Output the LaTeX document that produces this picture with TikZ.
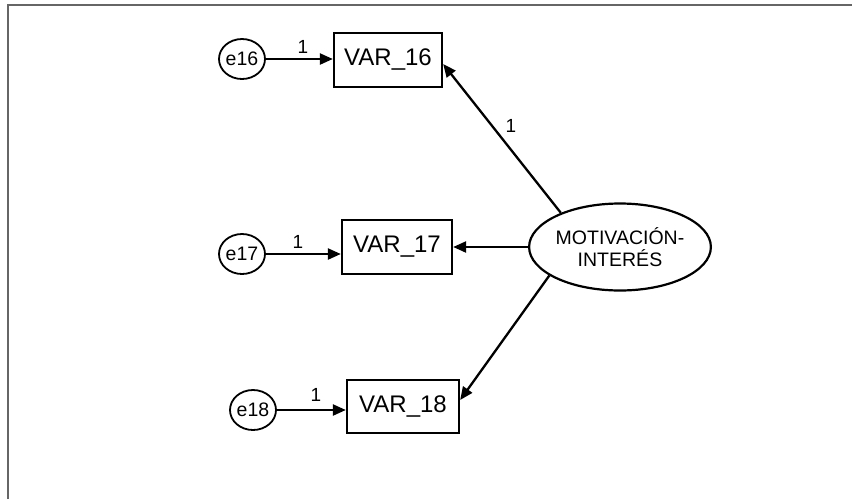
\documentclass[tikz,border=0pt]{standalone}
\usepackage{fontspec}
\setmainfont{Liberation Sans}
\usetikzlibrary{arrows.meta,shapes.geometric}
\begin{document}
\begin{tikzpicture}[x=1pt,y=-1pt,
  obs/.style={draw,line width=2.3pt,minimum width=108pt,minimum height=54pt,inner sep=0pt,font=\fontsize{24}{26}\selectfont},
  err/.style={draw,ellipse,line width=1.8pt,minimum width=40pt,minimum height=40pt,inner sep=0pt,font=\fontsize{19.5}{21}\selectfont},
  lat/.style={draw,ellipse,line width=2.2pt,minimum width=164pt,minimum height=87pt,inner sep=0pt,align=center,font=\fontsize{19.5}{22}\selectfont},
  arr/.style={line width=2.3pt,-{Triangle[length=13pt,width=11pt]}},
  one/.style={font=\fontsize{19}{21}\selectfont,inner sep=0pt}]
\useasboundingbox (0,0) rectangle (852,499);
\draw[line width=1.5pt,color=black!60] (8,499) -- (8,5) -- (852,5);
\node[obs] (var16) at (388,60) {VAR\_16};
\node[obs,minimum width=110pt] (var17) at (397,247) {VAR\_17};
\node[obs,minimum width=112pt,minimum height=53pt] (var18) at (403,406.5) {VAR\_18};
\node[err] (e16) at (242,59) {e16};
\node[err] (e17) at (242,254) {e17};
\node[err] (e18) at (253,410) {e18};
\node[lat] (mot) at (620,247) {MOTIVACIÓN-\\INTERÉS};
\draw[arr] (e16.east) -- (e16.east -| var16.west);
\draw[arr] (e17.east) -- (e17.east -| var17.west);
\draw[arr] (e18.east) -- (e18.east -| var18.west);
\draw[arr] (mot.150) -- ([yshift=-4pt]var16.east);
\draw[arr] (mot.west) -- (mot.west -| var17.east);
\draw[arr] (mot.202) -- ([yshift=6.5pt]var18.east);
\node[one] (l16) at (303,47) {1};
\node[one] (l17) at (298,242) {1};
\node[one] (l18) at (316,395) {1};
\node[one] (lm) at (511,126) {1};
\end{tikzpicture}
\end{document}
